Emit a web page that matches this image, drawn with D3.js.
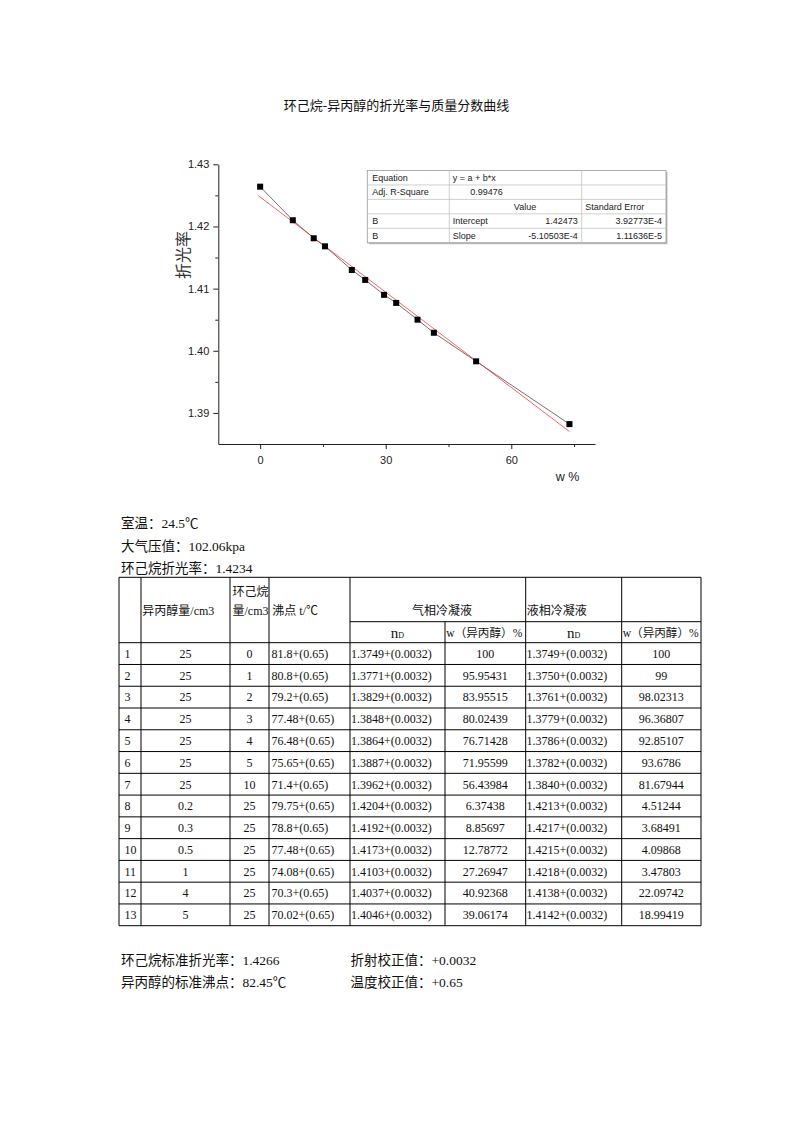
<!DOCTYPE html>
<html>
<head>
<meta charset="utf-8">
<script src="https://cdn.jsdelivr.net/npm/d3@7"></script>
<style>
  html, body { margin: 0; padding: 0; background: #fff; }
  svg { display: block; }
  .serif { font-family: "Liberation Serif", "Noto Sans CJK SC", serif; }
  .cjk { font-family: "Liberation Serif", "Noto Sans CJK SC", serif; }
  .sans { font-family: "Liberation Sans", Arial, sans-serif; }
</style>
</head>
<body>
<script>
// ---------------- data ----------------
const titleText = "环己烷-异丙醇的折光率与质量分数曲线";
const xValues = [0, 7.8, 12.8, 15.5, 21.9, 25.1, 29.6, 32.5, 37.6, 41.5, 51.6, 73.9];
const yValues = [1.4264, 1.4210, 1.4181, 1.4168, 1.4130, 1.4114, 1.4090, 1.4077, 1.4050, 1.4029, 1.3983, 1.3882];
const fitIntercept = 1.42473;
const fitSlope = -5.10503e-4;
const yTicks = [1.39, 1.40, 1.41, 1.42, 1.43];
const yMinorTicks = [1.395, 1.405, 1.415, 1.425];
const xTicks = [0, 30, 60];
const xMinorTicks = [15, 45, 75];
const yLabel = "折光率";
const xLabel = "w %";

const fitTable = [
  ["Equation", "y = a + b*x", "", ""],
  ["Adj. R-Square", "0.99476", "", ""],
  ["", "Value", "", "Standard Error"],
  ["B", "Intercept", "1.42473", "3.92773E-4"],
  ["B", "Slope", "-5.10503E-4", "1.11636E-5"]
];

const infoLines = ["室温：24.5℃", "大气压值：102.06kpa", "环己烷折光率：1.4234"];
const footLeft = ["环己烷标准折光率：1.4266", "异丙醇的标准沸点：82.45℃"];
const footRight = ["折射校正值：+0.0032", "温度校正值：+0.65"];

const rowNo = ["1","2","3","4","5","6","7","8","9","10","11","12","13"];
const ipaVol = ["25","25","25","25","25","25","25","0.2","0.3","0.5","1","4","5"];
const chxVol = ["0","1","2","3","4","5","10","25","25","25","25","25","25"];
const boilPt = ["81.8+(0.65)","80.8+(0.65)","79.2+(0.65)","77.48+(0.65)","76.48+(0.65)","75.65+(0.65)","71.4+(0.65)","79.75+(0.65)","78.8+(0.65)","77.48+(0.65)","74.08+(0.65)","70.3+(0.65)","70.02+(0.65)"];
const gasN = ["1.3749+(0.0032)","1.3771+(0.0032)","1.3829+(0.0032)","1.3848+(0.0032)","1.3864+(0.0032)","1.3887+(0.0032)","1.3962+(0.0032)","1.4204+(0.0032)","1.4192+(0.0032)","1.4173+(0.0032)","1.4103+(0.0032)","1.4037+(0.0032)","1.4046+(0.0032)"];
const gasW = ["100","95.95431","83.95515","80.02439","76.71428","71.95599","56.43984","6.37438","8.85697","12.78772","27.26947","40.92368","39.06174"];
const liqN = ["1.3749+(0.0032)","1.3750+(0.0032)","1.3761+(0.0032)","1.3779+(0.0032)","1.3786+(0.0032)","1.3782+(0.0032)","1.3840+(0.0032)","1.4213+(0.0032)","1.4217+(0.0032)","1.4215+(0.0032)","1.4218+(0.0032)","1.4138+(0.0032)","1.4142+(0.0032)"];
const liqW = ["100","99","98.02313","96.36807","92.85107","93.6786","81.67944","4.51244","3.68491","4.09868","3.47803","22.09742","18.99419"];

// ---------------- page ----------------
const W = 793, H = 1122;
const svg = d3.select("body").append("svg").attr("width", W).attr("height", H);
svg.append("rect").attr("width", W).attr("height", H).attr("fill", "#fff");

svg.append("text").attr("class", "cjk")
  .attr("x", 396.5).attr("y", 110).attr("text-anchor", "middle")
  .attr("font-size", 13).attr("fill", "#111").text(titleText);

// ---------------- chart ----------------
const x = d3.scaleLinear().domain([-10, 80]).range([218.3, 595]);
const y = d3.scaleLinear().domain([1.385, 1.43]).range([444, 164.3]);
const g = svg.append("g");

g.append("g").attr("transform", `translate(${x(-10)},0)`)
  .call(d3.axisLeft(y).tickValues(yTicks).tickSize(5).tickSizeOuter(0).tickPadding(4).tickFormat(d3.format(".2f")));
const axLm = g.append("g").attr("transform", `translate(${x(-10)},0)`)
  .call(d3.axisLeft(y).tickValues(yMinorTicks).tickSize(3).tickSizeOuter(0).tickFormat(""));
axLm.select(".domain").remove();
g.append("g").attr("transform", `translate(0,${y(1.385)})`)
  .call(d3.axisBottom(x).tickValues(xTicks).tickSize(5).tickSizeOuter(0).tickPadding(7));
const axBm = g.append("g").attr("transform", `translate(0,${y(1.385)})`)
  .call(d3.axisBottom(x).tickValues(xMinorTicks).tickSize(3).tickSizeOuter(0).tickFormat(""));
axBm.select(".domain").remove();
g.selectAll(".domain, .tick line").attr("stroke", "#222").attr("stroke-width", 1);
g.selectAll(".tick text").attr("class", "sans").attr("font-size", 11).attr("fill", "#222");

// data connecting line
const line = d3.line().x(d => x(d[0])).y(d => y(d[1]));
const pts = xValues.map((v, i) => [v, yValues[i]]);
g.append("path").attr("d", line(pts)).attr("fill", "none").attr("stroke", "#333").attr("stroke-width", 0.7);
// fit line
const xr = d3.extent(xValues);
g.append("path").attr("d", line([[xr[0] - 0.5, fitIntercept + fitSlope * (xr[0] - 0.5)], [xr[1], fitIntercept + fitSlope * xr[1]]]))
  .attr("fill", "none").attr("stroke", "#ff2020").attr("stroke-width", 0.7);
// markers
g.selectAll("rect.pt").data(pts).enter().append("rect").attr("class", "pt")
  .attr("x", d => x(d[0]) - 3).attr("y", d => y(d[1]) - 3).attr("width", 6).attr("height", 6).attr("fill", "#000");

// axis labels
svg.append("text").attr("class", "cjk").attr("font-size", 16).attr("fill", "#333")
  .attr("transform", "translate(189,255) rotate(-90)").attr("text-anchor", "middle").text(yLabel);
svg.append("text").attr("class", "sans").attr("font-size", 12.5).attr("fill", "#222")
  .attr("x", 567.5).attr("y", 481).attr("text-anchor", "middle").text(xLabel);

// fit table inset
const tX = [367.3, 449.3, 581.7, 666];
const insetTop = 170.5, insetRow = 14.45;
const inset = svg.append("g");
inset.append("rect").attr("x", tX[0] + 1.5).attr("y", insetTop + 1.5).attr("width", tX[3] - tX[0]).attr("height", insetRow * 5).attr("fill", "#bbb");
inset.append("rect").attr("x", tX[0]).attr("y", insetTop).attr("width", tX[3] - tX[0]).attr("height", insetRow * 5).attr("fill", "#fff").attr("stroke", "#999").attr("stroke-width", 0.8);
for (let i = 1; i < 5; i++) {
  inset.append("line").attr("x1", tX[0]).attr("x2", tX[3]).attr("y1", insetTop + i * insetRow).attr("y2", insetTop + i * insetRow).attr("stroke", "#c4c4c4").attr("stroke-width", 0.8);
}
[tX[1], tX[2]].forEach(xx => inset.append("line").attr("x1", xx).attr("x2", xx).attr("y1", insetTop).attr("y2", insetTop + 5 * insetRow).attr("stroke", "#c4c4c4").attr("stroke-width", 0.8));
const fsI = 9;
fitTable.forEach((r, i) => {
  const yy = insetTop + i * insetRow + insetRow / 2 + 3.2;
  const tt = (xx, s, anchor) => inset.append("text").attr("class", "sans").attr("font-size", fsI).attr("fill", "#222")
    .attr("x", xx).attr("y", yy).attr("text-anchor", anchor || "start").text(s);
  if (r[0]) tt(tX[0] + 5, r[0]);
  if (i === 0) tt(tX[1] + 3.5, r[1]);
  else if (i === 1) tt(tX[1] + 21, r[1]);
  else if (i === 2) { tt(525, r[1], "middle"); tt(tX[2] + 3.5, r[3]); }
  else { tt(tX[1] + 3.5, r[1]); tt(tX[2] - 4, r[2], "end"); tt(tX[3] - 4, r[3], "end"); }
});

// ---------------- info lines ----------------
infoLines.forEach((s, i) => {
  svg.append("text").attr("class", "cjk").attr("font-size", 13.5).attr("fill", "#111")
    .attr("x", 121).attr("y", 528 + i * 22.5).text(s);
});

// ---------------- data table ----------------
const cx = [119, 141, 230, 269, 350, 445, 525.7, 621.7, 701];
const tabTop = 577.3, subY = 621.7, headBot = 642.7, rowH = 21.77;
const tb = svg.append("g");
const L = (x1, y1, x2, y2) => tb.append("line").attr("x1", x1).attr("y1", y1).attr("x2", x2).attr("y2", y2).attr("stroke", "#000").attr("stroke-width", 1);
const nRows = rowNo.length;
const tabBot = headBot + nRows * rowH;
L(cx[0], tabTop, cx[8], tabTop);
L(cx[4], subY, cx[8], subY);
for (let i = 0; i <= nRows; i++) L(cx[0], headBot + i * rowH, cx[8], headBot + i * rowH);
[0, 1, 2, 3, 4, 6, 7, 8].forEach(k => L(cx[k], tabTop, cx[k], tabBot));
L(cx[5], subY, cx[5], tabBot);

const T = (xx, yy, s, anchor, fs) => tb.append("text").attr("class", "serif").attr("font-size", fs || 12).attr("fill", "#111")
  .attr("x", xx).attr("y", yy).attr("text-anchor", anchor || "start").text(s);
// header
T(142.3, 615, "异丙醇量/cm3");
T(232.5, 596, "环己烷");
T(232.5, 615, "量/cm3");
T(272.3, 615, "沸点 t/℃");
T(442, 615, "气相冷凝液", "middle");
T(526.7, 615, "液相冷凝液");
const nD = (cxm) => {
  const t = tb.append("text").attr("class", "serif").attr("fill", "#111").attr("x", cxm).attr("y", 637.5).attr("text-anchor", "middle");
  t.append("tspan").attr("font-size", 15).text("n");
  t.append("tspan").attr("font-size", 8).text("D");
};
nD((cx[4] + cx[5]) / 2);
nD((cx[6] + cx[7]) / 2);
T(446.3, 636.5, "w（异丙醇）%", "start", 11.6);
T(622.7, 636.5, "w（异丙醇）%", "start", 11.6);
// body
rowNo.forEach((r, i) => {
  const yy = headBot + i * rowH + rowH / 2 + 4.3;
  T(124.5, yy, r);
  T(185.5, yy, ipaVol[i], "middle");
  T(249.5, yy, chxVol[i], "middle");
  T(271.5, yy, boilPt[i]);
  T(351, yy, gasN[i]);
  T((cx[5] + cx[6]) / 2, yy, gasW[i], "middle");
  T(526.5, yy, liqN[i]);
  T((cx[7] + cx[8]) / 2, yy, liqW[i], "middle");
});

// ---------------- footer ----------------
footLeft.forEach((s, i) => svg.append("text").attr("class", "cjk").attr("font-size", 13.5).attr("fill", "#111")
  .attr("x", 121).attr("y", 965 + i * 22.3).text(s));
footRight.forEach((s, i) => svg.append("text").attr("class", "cjk").attr("font-size", 13.5).attr("fill", "#111")
  .attr("x", 350.5).attr("y", 965 + i * 22.3).text(s));
</script>
</body>
</html>
